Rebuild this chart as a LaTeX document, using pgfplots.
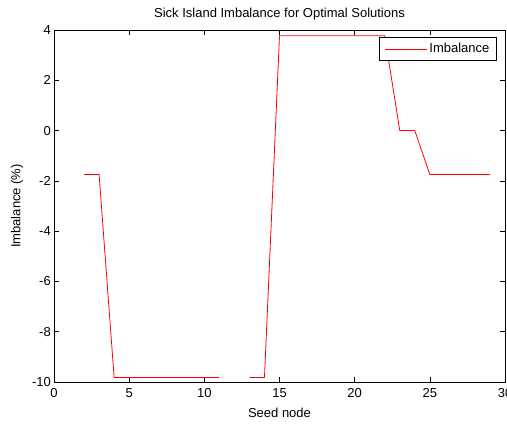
\documentclass[border=0pt]{standalone}
\usepackage{pgfplots}
\pgfplotsset{compat=1.18}
\usepackage{fontspec}
\setmainfont{Liberation Sans}
\begin{document}
\fontsize{13}{15}\selectfont
\begin{tikzpicture}
\begin{axis}[
  scale only axis, width=451pt, height=352pt,
  xmin=0, xmax=30, ymin=-10, ymax=4,
  xtick={0,5,...,30}, ytick={-10,-8,...,4},
  tick align=inside, major tick length=5pt,
  tick style={black, line width=0.6pt},
  axis line style={black, line width=0.8pt},
  /pgf/number format/assume math mode=true,
  ticklabel style={font=\fontsize{13}{15}\selectfont},
  xticklabel style={inner sep=2pt, yshift=-4pt},
  yticklabel style={inner sep=2pt, xshift=-1pt},
  title={Sick Island Imbalance for Optimal Solutions},
  title style={at={(axis description cs:0.5,1.028)}, anchor=center, font=\fontsize{13}{15}\selectfont},
  xlabel={Seed node},
  xlabel style={at={(axis description cs:0.5,-0.087)}, anchor=center, font=\fontsize{13}{15}\selectfont},
  ylabel={Imbalance (\%)},
  ylabel style={at={(axis description cs:-0.082,0.5)}, anchor=center, font=\fontsize{13}{15}\selectfont},
  legend style={at={(0.982,0.98)}, anchor=north east, line width=1pt,
    font=\fontsize{13}{15}\selectfont, inner xsep=5pt, inner ysep=4pt},
  legend cell align=left,
  legend image code/.code={\draw[#1] (0pt,0pt) -- (42pt,0pt);},
  legend image post style={red, line width=0.8pt},
  unbounded coords=jump,
]
\addplot[red, line width=0.8pt] coordinates {
 (2,-1.75) (3,-1.75) (4,-9.82) (5,-9.82) (6,-9.82) (7,-9.82) (8,-9.82) (9,-9.82) (10,-9.82) (11,-9.82)
 (12,nan)
 (13,-9.82) (14,-9.82) (15,3.77) (16,3.77) (17,3.77) (18,3.77) (19,3.77) (20,3.77) (21,3.77) (22,3.77)
 (23,0) (24,0) (25,-1.75) (26,-1.75) (27,-1.75) (28,-1.75) (29,-1.75)
};
\legend{Imbalance}
\coordinate (bl) at (rel axis cs:0,0);
\coordinate (tr) at (rel axis cs:1,1);
\end{axis}
\pgfresetboundingbox
\useasboundingbox ([shift={(-54pt,-41pt)}]bl) rectangle ([shift={(2pt,30pt)}]tr);
\end{tikzpicture}
\end{document}
